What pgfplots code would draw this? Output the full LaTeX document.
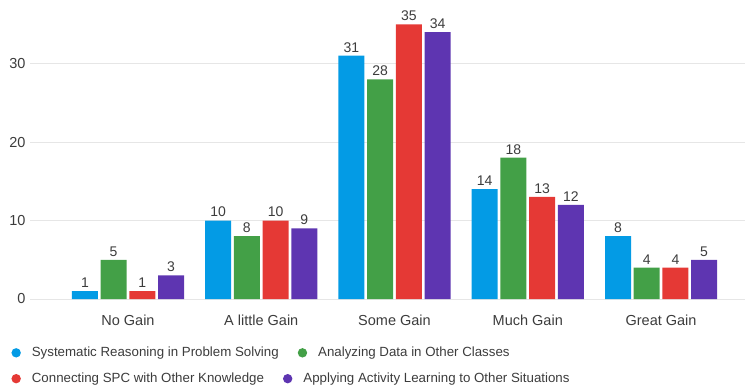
\documentclass[border=0pt]{standalone}
\usepackage{pgfplots}
\pgfplotsset{compat=1.18}
\usepackage{fontspec}
\setmainfont{Liberation Sans}

\definecolor{cblue}{HTML}{039BE5}
\definecolor{cgreen}{HTML}{43A047}
\definecolor{cred}{HTML}{E53935}
\definecolor{cpurple}{HTML}{5E35B1}
\definecolor{txt}{HTML}{3C3C3C}
\definecolor{gridc}{HTML}{E6E6E6}

\pgfplotsset{
  dotimg/.style={legend image code/.code={\fill[##1, draw=none] (4.7bp,0) circle (4.7bp);}},
  dotlegend/.style={
    legend style={draw=none, fill=none, inner sep=0pt, anchor=west,
      font=\fontsize{13.3bp}{15bp}\selectfont, text=txt,
      /tikz/every odd column/.append style={column sep=9bp},
      /tikz/every even column/.append style={column sep=17bp}},
    legend columns=-1,
  },
}

\begin{document}
\begin{tikzpicture}[x=1bp,y=1bp]
\useasboundingbox (0,0) rectangle (745,387);
\begin{axis}[
  dotlegend,
  at={(30bp,88bp)}, anchor=south west,
  scale only axis, width=715bp, height=299bp,
  xmin=-0.735, xmax=4.63, ymin=0, ymax=38.1,
  axis line style={draw=none},
  major tick length=0pt,
  ymajorgrids, grid style={gridc, line width=1bp},
  ytick={0,10,20,30},
  xtick={0,1,2,3,4},
  xticklabels={No Gain, A little Gain, Some Gain, Much Gain, Great Gain},
  xticklabel style={font=\fontsize{14.5bp}{16bp}\selectfont, text=txt, yshift=-12bp},
  yticklabel style={font=\fontsize{14.5bp}{16bp}\selectfont, text=txt, xshift=-1bp},
  /pgf/number format/assume math mode=true,
  ybar=2.7bp, bar width=26bp,
  nodes near coords,
  every node near coord/.append style={font=\fontsize{14bp}{16bp}\selectfont, text=txt},
  legend style={at={(-0.0262,-0.18)}},
  clip=false,
]
\addplot[fill=cblue, draw=none, dotimg] coordinates {(0,1) (1,10) (2,31) (3,14) (4,8)};
\addplot[fill=cgreen, draw=none, dotimg] coordinates {(0,5) (1,8) (2,28) (3,18) (4,4)};
\addplot[fill=cred, draw=none, dotimg] coordinates {(0,1) (1,10) (2,35) (3,13) (4,4)};
\addplot[fill=cpurple, draw=none, dotimg] coordinates {(0,3) (1,9) (2,34) (3,12) (4,5)};
\legend{Systematic Reasoning in Problem Solving, Analyzing Data in Other Classes}
\end{axis}
% second legend row
\begin{axis}[
  dotlegend,
  at={(30bp,88bp)}, anchor=south west,
  scale only axis, width=715bp, height=299bp,
  xmin=0, xmax=1, ymin=0, ymax=1,
  hide axis,
  legend style={at={(-0.0262,-0.2665)}},
]
\addlegendimage{fill=cred, dotimg}
\addlegendimage{fill=cpurple, dotimg}
\legend{Connecting SPC with Other Knowledge, Applying Activity Learning to Other Situations}
\end{axis}
\end{tikzpicture}
\end{document}
